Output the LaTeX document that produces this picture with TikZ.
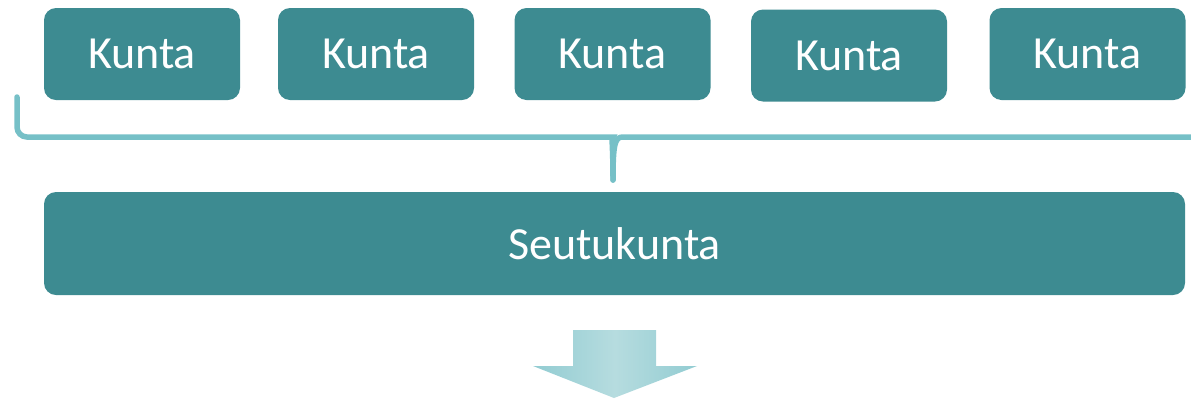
\documentclass[tikz,border=0pt]{standalone}
\usepackage{fontspec}
\setmainfont{Carlito}
\usepackage{xcolor}
\definecolor{tealbox}{HTML}{3D8B91}
\definecolor{bracecol}{HTML}{76C0C7}
\definecolor{arrowedge}{HTML}{92CCD2}
\definecolor{arrowmid}{HTML}{B6DCDF}

\begin{document}
\begin{tikzpicture}[x=1pt, y=-1pt,
    kuntabox/.style={fill=tealbox, text=white, rounded corners=12pt,
        minimum width=196pt, minimum height=92pt, inner sep=0pt,
        font=\fontsize{46}{52}\selectfont},
    seutubox/.style={kuntabox, minimum width=1141pt, minimum height=103pt},
    brace/.style={draw=bracecol, line width=5.5pt, line cap=round}]
    \useasboundingbox (0,0) rectangle (1191,400);
    % five municipalities
    \foreach \x/\y [count=\i] in {142/54, 376/54, 612.5/54, 849/55.5, 1087.5/54}
        \node[kuntabox] (k\i) at (\x, \y) {Kunta};
    % region
    \node[seutubox] (seutu) at (614.5, 243.5) {Seutukunta};
    % brace
    \coordinate (tip) at (613, 180);
    \draw[brace, rounded corners=10pt] (17, 97) -- (17, 137) -- (603, 137)
        .. controls (611, 137) and (613, 143) .. (tip);
    \draw[brace] (tip) .. controls (613, 143) and (615, 137) .. (623, 137) -- (1195, 137);
    % arrow down
    \shade[left color=arrowedge, right color=arrowedge, middle color=arrowmid]
        (573, 330) -- (656, 330) -- (656, 366) -- (697, 366) -- (614, 398)
        -- (533, 366) -- (573, 366) -- cycle;
\end{tikzpicture}
\end{document}
